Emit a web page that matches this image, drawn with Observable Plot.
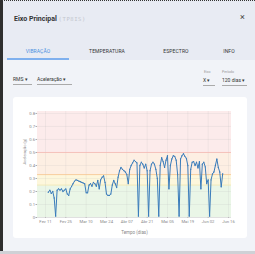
<!DOCTYPE html>
<html><head><meta charset="utf-8">
<script src="https://cdn.jsdelivr.net/npm/d3@7"></script>
<script src="https://cdn.jsdelivr.net/npm/@observablehq/plot@0.6"></script>
<style>
html,body{margin:0;padding:0;width:255px;height:254px;overflow:hidden;background:#f1f3f8;font-family:Roboto,"Noto Sans",sans-serif;}
#root{position:relative;width:255px;height:254px;}
.abs{position:absolute;white-space:nowrap;}
#head{position:absolute;left:0;top:0;width:255px;height:60px;background:#e8ebf3;}
#leftbar{position:absolute;left:0;top:0;width:3px;height:251px;background:#2e2e2e;}
#topdots{position:absolute;left:0;top:0;width:255px;height:0;border-top:1.5px dotted #333;}
#bottombar{position:absolute;left:0;top:251px;width:255px;height:3px;background:#cfd1d6;}
.tab{position:absolute;top:48px;font-size:5px;color:#333;transform:translateX(-50%);letter-spacing:0.1px;}
.sel{position:absolute;font-size:5px;color:#333;border-bottom:0.6px solid #aaa;padding-bottom:2px;}
.lbl{position:absolute;font-size:3.5px;color:#999;}
#card{position:absolute;left:13px;top:97px;width:234px;height:141px;background:#fff;border-radius:3px;}
</style></head>
<body><div id="root">
<div id="head"></div>
<div id="leftbar"></div>
<div id="topdots"></div>
<div class="abs" style="left:14px;top:15px;font-size:7px;font-weight:bold;color:#333;">Eixo Principal <span style="font-weight:normal;color:#c3c6ce;font-family:'DejaVu Sans Mono',monospace;font-size:5.5px;letter-spacing:0.6px;">(TP8IS)</span></div>
<div class="abs" style="left:240px;top:12px;font-size:9px;color:#444;">×</div>
<div class="tab" style="left:38px;color:#4a8fe0;">VIBRAÇÃO</div>
<div class="tab" style="left:107px;">TEMPERATURA</div>
<div class="tab" style="left:176px;">ESPECTRO</div>
<div class="tab" style="left:229px;">INFO</div>
<div class="abs" style="left:7px;top:58px;width:62px;height:1.5px;background:#7fb0ee;"></div>
<div class="sel" style="left:13px;top:76px;width:19px;">RMS ▾</div>
<div class="sel" style="left:37px;top:76px;width:35px;">Aceleração ▾</div>
<div class="lbl" style="left:204px;top:70px;">Eixo</div>
<div class="lbl" style="left:222px;top:70px;">Período</div>
<div class="sel" style="left:203px;top:77px;width:12px;">X ▾</div>
<div class="sel" style="left:222px;top:77px;width:25px;">120 dias ▾</div>
<div id="card"></div>
<div id="bottombar"></div>
</div>
<script>
const startDate = "2024-02-13";
const values = [
0.195,0.21,0.185,0.2,0.15,0.01,0.21,0.22,0.21,0.22,
0.2,0.21,0.22,0.18,0.17,0.22,0.24,0.26,0.28,0.29,
0.285,0.28,0.275,0.27,0.265,0.26,0.19,0.19,0.25,0.26,
0.24,0.27,0.26,0.24,0.285,0.22,0.29,0.31,0.32,0.27,
0.18,0.17,0.17,0.18,0.25,0.285,0.26,0.23,0.31,0.36,
0.385,0.37,0.36,0.35,0.33,0.26,0.37,0.4,0.42,0.44,
0.43,0.42,0.01,0.4,0.425,0.41,0.38,0.41,0.36,0.01,
0.36,0.41,0.425,0.41,0.37,0.3,0.01,0.4,0.46,0.43,
0.385,0.44,0.475,0.22,0.4,0.45,0.475,0.47,0.44,0.33,
0.01,0.45,0.475,0.49,0.47,0.455,0.4,0.01,0.37,0.425,
0.43,0.4,0.425,0.38,0.43,0.22,0.41,0.425,0.39,0.26,
0.29,0.01,0.29,0.335,0.35,0.4,0.45,0.385,0.35,0.235,
0.335];
const tickDates = ["2024-02-11","2024-02-25","2024-03-10","2024-03-24","2024-04-07","2024-04-21","2024-05-05","2024-05-19","2024-06-02","2024-06-16"];
const monthNames = ["Jan","Fev","Mar","Abr","Mai","Jun","Jul","Ago","Set","Out","Nov","Dez"];
const yTicks = [0,0.1,0.2,0.3,0.4,0.5,0.6,0.7,0.8];
const zoneLimits = [0, 0.25, 0.33, 0.5, 0.815];
const zoneColors = ["#eaf6e7","#fdf7dc","#fdefe3","#fcebeb"];
const thresholdValues = [0.25, 0.33, 0.5];
const thresholdColors = ["#f7e6a6","#f6c48f","#f6b7b3"];

const parse = d3.utcParse("%Y-%m-%d");
const t0 = parse(startDate);
const data = values.map((v,i)=>({date: d3.utcDay.offset(t0, i), v}));
const ticks = tickDates.map(parse);
const xDomain = [new Date(Date.UTC(2024,1,5,12)), new Date(Date.UTC(2024,5,18,2))];
const zones = zoneColors.map((c,i)=>({y1: zoneLimits[i], y2: zoneLimits[i+1], c}));
const thresholds = thresholdValues.map((y,i)=>({y, c: thresholdColors[i]}));
const fmt = d => monthNames[d.getUTCMonth()] + " " + String(d.getUTCDate()).padStart(2,"0");

const chart = Plot.plot({
  width: 234, height: 141,
  marginLeft: 24, marginRight: 16, marginTop: 14, marginBottom: 21,
  style: {fontSize: "4.2px", fontFamily: "Roboto, sans-serif", color: "#888", background: "transparent", overflow: "visible"},
  x: {type: "utc", domain: xDomain},
  y: {domain: [0, 0.815]},
  marks: [
    Plot.rect(zones, {x1: xDomain[0], x2: xDomain[1], y1: "y1", y2: "y2", fill: "c"}),
    Plot.gridX(ticks, {stroke: "#bbb", strokeOpacity: 0.35, strokeWidth: 0.5}),
    Plot.gridY(yTicks, {stroke: "#bbb", strokeOpacity: 0.35, strokeWidth: 0.5}),
    Plot.ruleY(thresholds, {y: "y", stroke: "c", strokeWidth: 0.8}),
    Plot.axisX({ticks, tickFormat: fmt, tickSize: 1, tickPadding: 1.5, label: null, stroke: "#aaa"}),
    Plot.axisY({ticks: yTicks, tickFormat: d => d === 0 ? "0" : d3.format(".1f")(d), tickSize: 1.5, tickPadding: 1, label: null, stroke: "#aaa"}),
    Plot.ruleY([0], {stroke: "#ccc", strokeWidth: 0.5}),
    Plot.line(data, {x: "date", y: "v", stroke: "#3a7cbb", strokeWidth: 1}),
    Plot.dot(data, {x: "date", y: "v", r: 0.65, fill: "#3a7cbb"}),
    Plot.text(["Aceleração (g)"], {frameAnchor: "left", dx: -13, rotate: -90, fontSize: 4, fill: "#888"}),
    Plot.text(["Tempo (dias)"], {frameAnchor: "bottom", dy: 16.5, fontSize: 4.5, fill: "#888"})
  ]
});
chart.style.position = "absolute";
chart.style.left = "13px";
chart.style.top = "97px";
document.getElementById("root").insertBefore(chart, document.getElementById("bottombar"));
</script>
</body></html>
